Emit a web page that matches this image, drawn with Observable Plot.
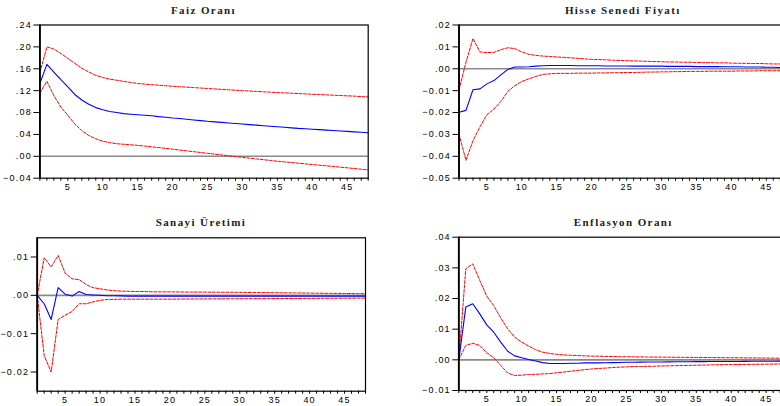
<!DOCTYPE html>
<html><head><meta charset="utf-8">
<script src="https://cdn.jsdelivr.net/npm/d3@7"></script>
<script src="https://cdn.jsdelivr.net/npm/@observablehq/plot@0.6"></script>
<style>
html,body{margin:0;padding:0;background:#fff;overflow:hidden;}
#root{position:relative;width:780px;height:406px;overflow:hidden;background:#fff;}
.panel{position:absolute;}
.panel svg{max-width:none !important;display:block;}
.title{position:absolute;font-family:"Liberation Serif","Times New Roman",serif;font-size:11px;font-weight:bold;letter-spacing:1.4px;line-height:12px;text-align:center;white-space:nowrap;transform:translateX(-50%);color:#222;}
</style></head><body><div id="root"></div>
<script>
const periods = d3.range(1, 49);
const xLabelTicks = [5, 10, 15, 20, 25, 30, 35, 40, 45];

const titles = ["Faiz Oranı", "Hisse Senedi Fiyatı", "Sanayi Üretimi", "Enflasyon Oranı"];

const faizResponse = [
  0.133, 0.168, 0.154, 0.140, 0.127, 0.113, 0.103, 0.095,
  0.089, 0.085, 0.082, 0.080, 0.078, 0.077, 0.076, 0.075,
  0.074, 0.0725, 0.0713, 0.070, 0.069, 0.0677, 0.0665, 0.0653,
  0.064, 0.063, 0.062, 0.061, 0.060, 0.059, 0.058, 0.057,
  0.056, 0.055, 0.054, 0.053, 0.052, 0.051, 0.0503, 0.0495,
  0.0487, 0.0479, 0.0471, 0.0463, 0.0455, 0.0447, 0.0439, 0.043];
const faizUpper = [
  0.153, 0.200, 0.196, 0.188, 0.179, 0.170, 0.161, 0.154,
  0.148, 0.144, 0.141, 0.139, 0.137, 0.135, 0.133, 0.132,
  0.131, 0.130, 0.129, 0.128, 0.1272, 0.1264, 0.1256, 0.1248,
  0.124, 0.1232, 0.1224, 0.1216, 0.1208, 0.120, 0.1193, 0.1186,
  0.1179, 0.1172, 0.1165, 0.1159, 0.1153, 0.1147, 0.1141, 0.1135,
  0.1129, 0.1123, 0.1117, 0.1111, 0.1105, 0.110, 0.1092, 0.1085];
const faizLower = [
  0.116, 0.137, 0.111, 0.090, 0.075, 0.059, 0.047, 0.038,
  0.032, 0.0275, 0.025, 0.023, 0.022, 0.021, 0.020, 0.0187,
  0.0173, 0.016, 0.0145, 0.013, 0.0115, 0.010, 0.0085, 0.007,
  0.0055, 0.004, 0.0025, 0.001, -0.0005, -0.002, -0.0034, -0.0048,
  -0.0062, -0.0076, -0.009, -0.0102, -0.0114, -0.0126, -0.0138, -0.015,
  -0.0162, -0.0174, -0.0186, -0.0198, -0.021, -0.0223, -0.0236, -0.025];

const hisseResponse = [
  -0.0199, -0.019, -0.0096, -0.0092, -0.0069, -0.0054, -0.0028, -0.0003,
  0.0008, 0.0008, 0.0009, 0.0012, 0.0014, 0.0015, 0.0015, 0.0015,
  0.0015, 0.0014, 0.0014, 0.0014, 0.0014, 0.0013, 0.0013, 0.0013,
  0.0013, 0.0012, 0.0012, 0.0012, 0.0012, 0.0012, 0.0011, 0.0011,
  0.0011, 0.0011, 0.001, 0.001, 0.001, 0.001, 0.0009, 0.0009,
  0.0009, 0.0008, 0.0008, 0.0008, 0.0007, 0.0007, 0.0006, 0.0006];
const hisseUpper = [
  -0.0096, 0.003, 0.0138, 0.0077, 0.0074, 0.0075, 0.0087, 0.0096,
  0.0092, 0.0077, 0.0066, 0.0061, 0.0058, 0.0056, 0.0054, 0.0052,
  0.005, 0.0048, 0.0045, 0.0043, 0.0042, 0.0041, 0.0039, 0.0038,
  0.0037, 0.0036, 0.0035, 0.0034, 0.0033, 0.0032, 0.0031, 0.0031,
  0.003, 0.003, 0.0029, 0.0028, 0.0028, 0.0027, 0.0027, 0.0026,
  0.0025, 0.0025, 0.0024, 0.0024, 0.0023, 0.0022, 0.0022, 0.0021];
const hisseLower = [
  -0.0299, -0.0418, -0.0329, -0.0265, -0.021, -0.0184, -0.0149, -0.0103,
  -0.0077, -0.0058, -0.0046, -0.0035, -0.0026, -0.0023, -0.0021, -0.0021,
  -0.0021, -0.002, -0.002, -0.002, -0.0019, -0.0019, -0.0018, -0.0018,
  -0.0017, -0.0017, -0.0016, -0.0015, -0.0015, -0.0014, -0.0014, -0.0013,
  -0.0013, -0.0012, -0.0012, -0.0012, -0.0011, -0.0011, -0.0011, -0.0011,
  -0.001, -0.001, -0.001, -0.0009, -0.0009, -0.0009, -0.0009, -0.0009];

const sanayiResponse = [
  0, -0.0022, -0.0063, 0.002, 0.0003, -0.0002, 0.001, 0.0002,
  0.0001, 0.0, -0.0001, -0.0001, -0.00015, -0.0002, -0.0002, -0.0002,
  -0.0002, -0.0002, -0.0002, -0.0002, -0.0002, -0.0002, -0.0002, -0.0002,
  -0.0002, -0.0002, -0.0002, -0.0002, -0.0002, -0.0002, -0.0002, -0.0002,
  -0.0002, -0.0002, -0.0002, -0.0002, -0.0002, -0.0002, -0.0002, -0.0002,
  -0.0002, -0.0002, -0.0002, -0.0002, -0.0002, -0.0002, -0.0002, -0.0002];
const sanayiUpper = [
  0, 0.0098, 0.0074, 0.0104, 0.0058, 0.0043, 0.0041, 0.0028,
  0.002, 0.0017, 0.0014, 0.0012, 0.0011, 0.00105, 0.001, 0.001,
  0.00095, 0.0009, 0.0009, 0.0009, 0.00088, 0.00086, 0.00085, 0.00084,
  0.00083, 0.00082, 0.00081, 0.0008, 0.00079, 0.00078, 0.00076, 0.00074,
  0.00072, 0.0007, 0.00068, 0.00066, 0.00064, 0.00062, 0.0006, 0.00058,
  0.00056, 0.00054, 0.00052, 0.0005, 0.00048, 0.00046, 0.00044, 0.00042];
const sanayiLower = [
  0, -0.0157, -0.020, -0.0063, -0.0052, -0.0042, -0.0022, -0.0022,
  -0.0017, -0.0013, -0.0011, -0.00105, -0.001, -0.001, -0.001, -0.001,
  -0.001, -0.001, -0.001, -0.001, -0.00098, -0.00097, -0.00096, -0.00095,
  -0.00094, -0.00093, -0.00092, -0.00091, -0.0009, -0.0009, -0.00089, -0.00088,
  -0.00087, -0.00086, -0.00085, -0.00084, -0.00083, -0.00082, -0.00081, -0.0008,
  -0.00079, -0.00078, -0.00077, -0.00076, -0.00075, -0.00074, -0.00073, -0.00072];

const enflasyonResponse = [
  0, 0.0172, 0.0183, 0.015, 0.0114, 0.009, 0.0058, 0.0028,
  0.0013, 0.0007, 0.0001, -0.0004, -0.0009, -0.0012, -0.0012, -0.0012,
  -0.0011, -0.0011, -0.001, -0.001, -0.001, -0.00095, -0.0009, -0.00085,
  -0.0008, -0.0008, -0.00075, -0.00072, -0.0007, -0.00068, -0.00066, -0.00064,
  -0.00062, -0.0006, -0.00058, -0.00057, -0.00056, -0.00055, -0.00054, -0.00053,
  -0.00052, -0.0005, -0.00048, -0.00046, -0.00045, -0.00044, -0.00043, -0.00042];
const enflasyonUpper = [
  0, 0.0297, 0.0313, 0.0259, 0.0208, 0.0177, 0.0137, 0.0101,
  0.0074, 0.0058, 0.0045, 0.0033, 0.0025, 0.0021, 0.0018, 0.0016,
  0.0015, 0.0014, 0.0013, 0.0012, 0.0012, 0.0011, 0.0011, 0.001,
  0.001, 0.00098, 0.00095, 0.00092, 0.0009, 0.00088, 0.00086, 0.00084,
  0.00082, 0.0008, 0.00078, 0.00076, 0.00074, 0.00072, 0.0007, 0.00068,
  0.00066, 0.00064, 0.00062, 0.0006, 0.00058, 0.00056, 0.00054, 0.00052];
const enflasyonLower = [
  0, 0.0047, 0.0054, 0.0047, 0.0023, 0.0007, -0.0018, -0.0043,
  -0.0051, -0.005, -0.0048, -0.0047, -0.0046, -0.0045, -0.0042, -0.004,
  -0.0037, -0.0035, -0.0032, -0.003, -0.0028, -0.0027, -0.0025, -0.0024,
  -0.0023, -0.0022, -0.0022, -0.0021, -0.0021, -0.002, -0.00195, -0.0019,
  -0.00185, -0.0018, -0.00175, -0.0017, -0.00165, -0.0016, -0.00158, -0.00155,
  -0.00152, -0.0015, -0.00147, -0.00144, -0.00141, -0.00138, -0.00135, -0.00132];

const faizTicks = [-0.04, 0, 0.04, 0.08, 0.12, 0.16, 0.20, 0.24];
const hisseTicks = [-0.05, -0.04, -0.03, -0.02, -0.01, 0, 0.01, 0.02];
const sanayiTicks = [-0.02, -0.01, 0, 0.01];
const enflasyonTicks = [-0.01, 0, 0.01, 0.02, 0.03, 0.04];

const panels = [
  {title: titles[0], resp: faizResponse, up: faizUpper, lo: faizLower, domain: [-0.04, 0.24], ticks: faizTicks,
   left: 0, top: 0, width: 390, height: 200, mL: 39.4, mR: 22.3, mT: 24.5, mB: 22.3, tx: 203.5, ty: 4},
  {title: titles[1], resp: hisseResponse, up: hisseUpper, lo: hisseLower, domain: [-0.05, 0.02], ticks: hisseTicks,
   left: 390, top: 0, width: 420, height: 200, mL: 68.5, mR: 23.2, mT: 24.5, mB: 22.3, tx: 622.8, ty: 4},
  {title: titles[2], resp: sanayiResponse, up: sanayiUpper, lo: sanayiLower, domain: [-0.025, 0.015], ticks: sanayiTicks,
   left: 0, top: 200, width: 390, height: 206, mL: 36.7, mR: 25, mT: 37.3, mB: 15.3, tx: 201, ty: 215.5},
  {title: titles[3], resp: enflasyonResponse, up: enflasyonUpper, lo: enflasyonLower, domain: [-0.01, 0.04], ticks: enflasyonTicks,
   left: 390, top: 200, width: 420, height: 206, mL: 68.3, mR: 23.4, mT: 36.7, mB: 16, tx: 623.3, ty: 215.5}
];

const fmt = d => d3.format(".2f")(d).replace(/^(-?)0\./, "$1.");
const toRows = arr => periods.map((p, i) => ({p, v: arr[i]}));
const root = document.getElementById("root");

for (const c of panels) {
  const chart = Plot.plot({
    width: c.width, height: c.height,
    marginLeft: c.mL, marginRight: c.mR, marginTop: c.mT, marginBottom: c.mB,
    x: {domain: [1, 48]},
    y: {domain: c.domain},
    style: {fontFamily: "'Liberation Sans', Arial, sans-serif", fontSize: "9px", letterSpacing: "1.2px", color: "black", background: "transparent", overflow: "visible", maxWidth: "none"},
    marks: [
      Plot.ruleY([0], {stroke: "#8a8a8a", strokeWidth: 1.6}),
      Plot.line(toRows(c.up), {x: "p", y: "v", stroke: "#ff0000", strokeWidth: 1, strokeDasharray: "3,1.5"}),
      Plot.line(toRows(c.lo), {x: "p", y: "v", stroke: "#ff0000", strokeWidth: 1, strokeDasharray: "3,1.5"}),
      Plot.line(toRows(c.resp), {x: "p", y: "v", stroke: "#0000ff", strokeWidth: 1.1}),
      Plot.axisY({ticks: c.ticks, tickFormat: fmt, tickSize: 6, tickPadding: 2, label: null}),
      Plot.axisX({ticks: periods, tickFormat: d => xLabelTicks.includes(d) ? String(d) : "", tickSize: 3, tickPadding: 2, label: null}),
      Plot.frame({stroke: "black", strokeWidth: 1.2}),
      Plot.ruleX([1], {stroke: "black", strokeWidth: 1.8})
    ]
  });
  chart.style.maxWidth = "none";
  const wrap = document.createElement("div");
  wrap.className = "panel";
  wrap.style.left = c.left + "px";
  wrap.style.top = c.top + "px";
  wrap.style.width = c.width + "px";
  wrap.style.height = c.height + "px";
  wrap.appendChild(chart);
  root.appendChild(wrap);
  const t = document.createElement("div");
  t.className = "title";
  t.style.left = c.tx + "px";
  t.style.top = c.ty + "px";
  t.textContent = c.title;
  root.appendChild(t);
}
</script>
</body></html>
